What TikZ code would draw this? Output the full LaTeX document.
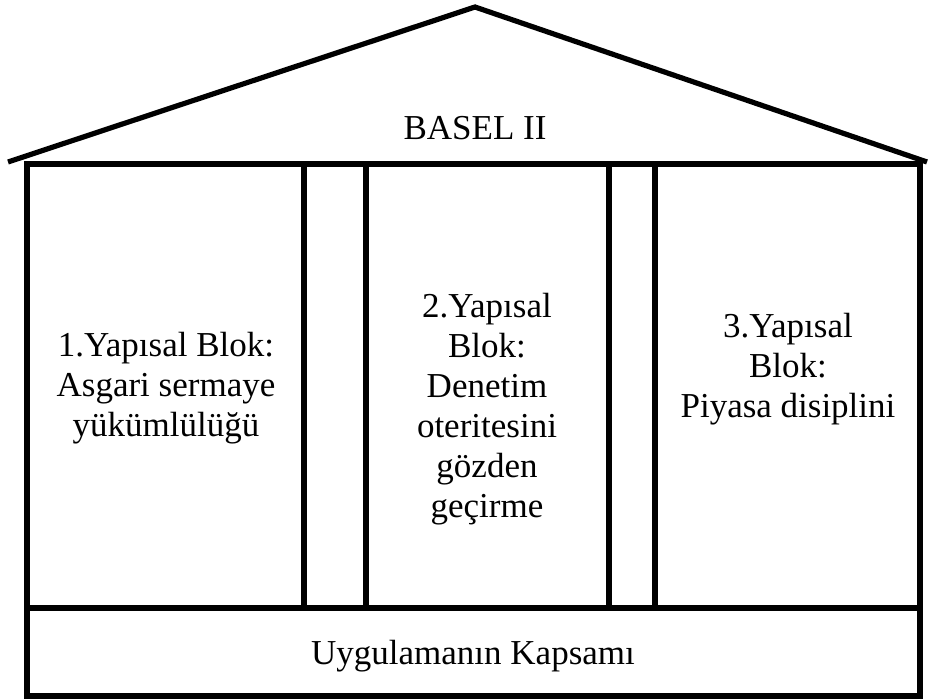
\documentclass[tikz,border=0pt]{standalone}
\usepackage{fontspec}
\setmainfont{Liberation Serif}
\usetikzlibrary{positioning}

\begin{document}
\begin{tikzpicture}[
    x=0.5pt, y=-0.5pt,
    wall/.style={line width=3pt},
    roof/.style={line width=2.6pt, line join=miter},
    label/.style={font=\fontsize{17.5}{20}\selectfont, align=center, inner sep=0pt, anchor=base}
]
    \useasboundingbox (0,0) rectangle (928,699);

    % Shapes -----------------------------------------------------

    % Roof
    \draw[roof] (8,162) -- (475,7) -- (927,162);

    % Frame and base
    \draw[wall] (27,164) rectangle (920,696);
    \draw[wall] (27,608) -- (920,608);

    % Column gaps
    \foreach \x in {304, 366, 609, 655}
        \draw[wall] (\x,164) -- (\x,608);

    % Nodes (anchored at the last line) ---------------------------

    \node[label] (title) at (475,140) {BASEL II};
    \node[label] (blk1) at (166,437) {1.Yapısal Blok:\\Asgari sermaye\\yükümlülüğü};
    \node[label] (blk2) at (487,518) {2.Yapısal\\Blok:\\Denetim\\oteritesini\\gözden\\geçirme};
    \node[label] (blk3) at (788,418) {3.Yapısal\\Blok:\\Piyasa disiplini};
    \node[label] (base) at (473,665) {Uygulamanın Kapsamı};

\end{tikzpicture}
\end{document}
